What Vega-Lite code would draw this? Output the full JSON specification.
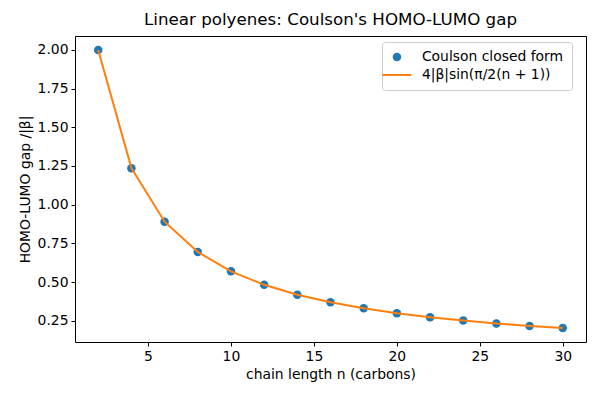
{
  "$schema": "https://vega.github.io/schema/vega-lite/v6.json",
  "width": 511,
  "height": 306,
  "autosize": {"type": "none"},
  "padding": {"left": 75, "top": 36, "right": 14, "bottom": 58},
  "background": "white",
  "config": {
    "font": "DejaVu Sans",
    "view": {"stroke": "black", "strokeWidth": 1},
    "axis": {
      "grid": false,
      "domain": false,
      "tickColor": "black",
      "tickSize": 4,
      "labelColor": "black",
      "labelFontSize": 13.9,
      "labelPadding": 3,
      "titleColor": "black",
      "titleFontSize": 13.9,
      "titleFontWeight": "normal"
    }
  },
  "title": {"text": "Linear polyenes: Coulson's HOMO-LUMO gap", "fontSize": 16.7, "fontWeight": "normal", "color": "black", "offset": 7},
  "data": {"values": [
    {"n": 2, "gap": 2.0},
    {"n": 4, "gap": 1.2361},
    {"n": 6, "gap": 0.8901},
    {"n": 8, "gap": 0.6946},
    {"n": 10, "gap": 0.5692},
    {"n": 12, "gap": 0.4822},
    {"n": 14, "gap": 0.4181},
    {"n": 16, "gap": 0.3691},
    {"n": 18, "gap": 0.3303},
    {"n": 20, "gap": 0.2989},
    {"n": 22, "gap": 0.2730},
    {"n": 24, "gap": 0.2512},
    {"n": 26, "gap": 0.2326},
    {"n": 28, "gap": 0.2165},
    {"n": 30, "gap": 0.2026}
  ]},
  "encoding": {
    "x": {"field": "n", "type": "quantitative", "scale": {"domain": [0.6, 31.4], "nice": false, "zero": false},
      "axis": {"values": [5, 10, 15, 20, 25, 30], "title": "chain length n (carbons)", "titlePadding": 5}},
    "y": {"field": "gap", "type": "quantitative", "scale": {"domain": [0.1127, 2.0899], "nice": false, "zero": false},
      "axis": {"values": [0.25, 0.5, 0.75, 1.0, 1.25, 1.5, 1.75, 2.0], "format": ".2f", "title": "HOMO-LUMO gap /|β|", "titlePadding": 5}}
  },
  "layer": [
    {
      "mark": {"type": "point", "filled": true, "size": 72, "opacity": 1},
      "encoding": {
        "color": {"datum": "Coulson closed form", "type": "nominal",
          "scale": {"domain": ["Coulson closed form", "4|β|sin(π/2(n + 1))"], "range": ["#1f77b4", "#ff7f0e"]},
          "legend": {
            "title": null,
            "orient": "none",
            "legendX": 307,
            "legendY": 6,
            "padding": 8,
            "fillColor": "white",
            "strokeColor": "#cccccc",
            "cornerRadius": 3,
            "labelFontSize": 13.9,
            "labelColor": "black",
            "labelOffset": 18,
            "rowPadding": 3,
            "symbolSize": 72,
            "encoding": {"symbols": {
              "shape": {"value": {"expr": "datum.value === 'Coulson closed form' ? 'circle' : 'stroke'"}},
              "size": {"value": {"expr": "datum.value === 'Coulson closed form' ? 72 : 840"}},
              "fill": {"value": {"expr": "datum.value === 'Coulson closed form' ? '#1f77b4' : 'transparent'"}},
              "stroke": {"value": {"expr": "datum.value === 'Coulson closed form' ? 'transparent' : '#ff7f0e'"}},
              "strokeWidth": {"value": {"expr": "datum.value === 'Coulson closed form' ? 0 : 2"}},
              "opacity": {"value": 1}
            }}
          }}
      }
    },
    {
      "mark": {"type": "line", "strokeWidth": 2},
      "encoding": {
        "color": {"datum": "4|β|sin(π/2(n + 1))", "type": "nominal"}
      }
    }
  ]
}
